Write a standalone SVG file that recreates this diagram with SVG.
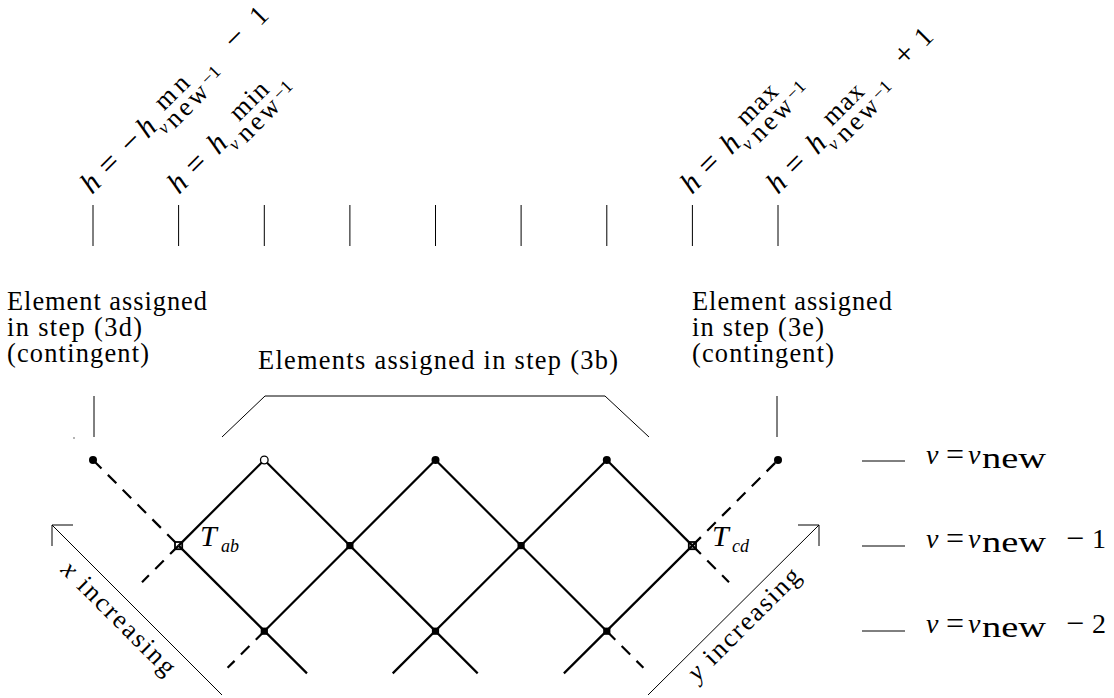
<svg xmlns="http://www.w3.org/2000/svg" width="1114" height="698" viewBox="0 0 1114 698">
  <style>
    .t { font-family: "Liberation Serif", "Times New Roman", serif; fill: #000; }
    .i { font-style: italic; }
    .s18 { font-size: 18px; }
    .s26 { font-size: 26.4px; }
    .s28 { font-size: 28px; }
    .s30 { font-size: 30px; }
    .s32 { font-size: 32px; }
    .thin { stroke: #000; stroke-width: 1; fill: none; }
    .lat { stroke: #000; stroke-width: 2.2; fill: none; }
    .dash { stroke-dasharray: 12 9; }
    .dot { fill: #000; }
    .sq { fill: #000; }
    .ring { fill: none; stroke: #000; stroke-width: 1.8; }
  </style>

  <!-- height labels above the tick marks -->
  <g id="label-hmin-minus1" transform="translate(92,195) rotate(-45)">
    <text class="t i s30" x="0" y="0">h</text>
    <text class="t s32" x="25" y="0">=</text>
    <text class="t s32" x="56" y="0">−</text>
    <text class="t i s30" x="79" y="0">h</text>
    <text class="t i s18" x="94" y="9">v</text>
    <text class="t s26" x="105" y="12" textLength="50">new</text>
    <text class="t s26" x="110" y="-8" textLength="38">mn</text>
    <text class="t s18" x="159" y="5">−1</text>
    <text class="t s32" x="203" y="0">−</text>
    <text class="t s28" x="238" y="0">1</text>
  </g>
  <g id="label-hmin" transform="translate(179,195) rotate(-45)">
    <text class="t i s30" x="0" y="0">h</text>
    <text class="t s32" x="25" y="0">=</text>
    <text class="t i s30" x="56" y="0">h</text>
    <text class="t i s18" x="71" y="9">v</text>
    <text class="t s26" x="84" y="11" textLength="50">new</text>
    <text class="t s26" x="94" y="-9" textLength="44">min</text>
    <text class="t s18" x="138" y="5">−1</text>
  </g>
  <g id="label-hmax" transform="translate(692,195) rotate(-45)">
    <text class="t i s30" x="0" y="0">h</text>
    <text class="t s32" x="25" y="0">=</text>
    <text class="t i s30" x="56" y="0">h</text>
    <text class="t i s18" x="71" y="9">v</text>
    <text class="t s26" x="84" y="11" textLength="50">new</text>
    <text class="t s26" x="86" y="-10" textLength="48">max</text>
    <text class="t s18" x="138" y="5">−1</text>
  </g>
  <g id="label-hmax-plus1" transform="translate(778,195) rotate(-45)">
    <text class="t i s30" x="0" y="0">h</text>
    <text class="t s32" x="25" y="0">=</text>
    <text class="t i s30" x="56" y="0">h</text>
    <text class="t i s18" x="71" y="9">v</text>
    <text class="t s26" x="84" y="11" textLength="50">new</text>
    <text class="t s26" x="86" y="-10" textLength="48">max</text>
    <text class="t s18" x="138" y="5">−1</text>
    <text class="t s32" x="180" y="0">+</text>
    <text class="t s28" x="208" y="0">1</text>
  </g>

  <!-- tick marks for each height column -->
  <g id="ticks" class="thin">
    <line x1="93" y1="205" x2="93" y2="246"/>
    <line x1="178.6" y1="205" x2="178.6" y2="246"/>
    <line x1="264.3" y1="205" x2="264.3" y2="246"/>
    <line x1="349.9" y1="205" x2="349.9" y2="246"/>
    <line x1="435.5" y1="205" x2="435.5" y2="246"/>
    <line x1="521.1" y1="205" x2="521.1" y2="246"/>
    <line x1="606.8" y1="205" x2="606.8" y2="246"/>
    <line x1="692.4" y1="205" x2="692.4" y2="246"/>
    <line x1="778" y1="205" x2="778" y2="246"/>
  </g>

  <!-- annotations -->
  <g id="note-3d">
    <text class="t s26" x="7" y="310" textLength="200">Element assigned</text>
    <text class="t s26" x="7" y="336" textLength="135">in step (3d)</text>
    <text class="t s26" x="7" y="362" textLength="142">(contingent)</text>
  </g>
  <g id="note-3e">
    <text class="t s26" x="692" y="310" textLength="200">Element assigned</text>
    <text class="t s26" x="692" y="336" textLength="132">in step (3e)</text>
    <text class="t s26" x="692" y="362" textLength="142">(contingent)</text>
  </g>
  <g id="note-3b">
    <text class="t s26" x="258" y="369" textLength="360">Elements assigned in step (3b)</text>
  </g>

  <!-- connectors: pointers, bracket, lattice edges, direction arrows -->
  <g id="connectors">
    <line class="thin" x1="94" y1="396" x2="94" y2="437"/>
    <line class="thin" x1="777" y1="396" x2="777" y2="437"/>
    <polyline class="thin" points="222,437 265,396 605,396 649,437"/>
    <circle cx="74" cy="438" r="0.8" fill="#555"/>

    <!-- solid lattice edges -->
    <line class="lat" x1="178.6" y1="545.6" x2="264.3" y2="460"/>
    <line class="lat" x1="264.3" y1="631.2" x2="435.5" y2="460"/>
    <line class="lat" x1="392.7" y1="673.4" x2="606.8" y2="460"/>
    <line class="lat" x1="563.9" y1="673.4" x2="692.4" y2="545.6"/>
    <line class="lat" x1="178.6" y1="545.6" x2="307" y2="673.4"/>
    <line class="lat" x1="264.3" y1="460" x2="477.7" y2="673.4"/>
    <line class="lat" x1="435.5" y1="460" x2="606.8" y2="631.2"/>
    <line class="lat" x1="606.8" y1="460" x2="692.4" y2="545.6"/>

    <!-- dashed continuations -->
    <line class="lat dash" x1="93" y1="460" x2="178.6" y2="545.6"/>
    <line class="lat dash" x1="178.6" y1="545.6" x2="142" y2="582.2"/>
    <line class="lat dash" x1="264.3" y1="631.2" x2="227.6" y2="667.8"/>
    <line class="lat dash" x1="692.4" y1="545.6" x2="778" y2="460"/>
    <line class="lat dash" x1="692.4" y1="545.6" x2="729" y2="582.2"/>
    <line class="lat dash" x1="606.8" y1="631.2" x2="643.4" y2="667.8"/>

    <!-- x increasing -->
    <line class="thin" x1="52" y1="525" x2="222" y2="695"/>
    <polyline class="thin" points="73,525 52,525 52,546"/>
    <!-- y increasing -->
    <line class="thin" x1="648" y1="695" x2="819" y2="525"/>
    <polyline class="thin" points="798,525 819,525 819,546"/>
  </g>

  <!-- lattice nodes -->
  <g id="node-top-0"><circle class="dot" cx="93" cy="460" r="4"/></g>
  <g id="node-top-1"><circle cx="264.3" cy="460" r="3.8" fill="#fff" stroke="#000" stroke-width="1.3"/></g>
  <g id="node-top-2"><circle class="dot" cx="435.5" cy="460" r="4"/></g>
  <g id="node-top-3"><circle class="dot" cx="606.8" cy="460" r="4"/></g>
  <g id="node-top-4"><circle class="dot" cx="778" cy="460" r="4"/></g>

  <g id="node-Tab">
    <rect class="ring" x="175" y="542" width="7.2" height="7.2"/>
    <text class="t i s30" x="200" y="546">T</text>
    <text class="t i s18" x="221" y="552">ab</text>
  </g>
  <g id="node-mid-1"><rect class="sq" x="346.3" y="542" width="7.2" height="7.2"/></g>
  <g id="node-mid-2"><rect class="sq" x="517.5" y="542" width="7.2" height="7.2"/></g>
  <g id="node-Tcd">
    <rect class="ring" x="688.8" y="542" width="7.2" height="7.2"/>
    <text class="t i s30" x="712" y="546">T</text>
    <text class="t i s18" x="732" y="552">cd</text>
  </g>
  <g id="node-bot-1"><rect class="sq" x="260.7" y="627.6" width="7.2" height="7.2"/></g>
  <g id="node-bot-2"><rect class="sq" x="431.9" y="627.6" width="7.2" height="7.2"/></g>
  <g id="node-bot-3"><rect class="sq" x="603.2" y="627.6" width="7.2" height="7.2"/></g>

  <!-- direction captions -->
  <g id="caption-x" transform="translate(52,525) rotate(45)">
    <text class="t s26" x="38" y="27" textLength="150"><tspan class="i">x</tspan> increasing</text>
  </g>
  <g id="caption-y" transform="translate(648,695) rotate(-45)">
    <text class="t s26" x="44" y="26" textLength="148"><tspan class="i">y</tspan> increasing</text>
  </g>

  <!-- level legend -->
  <g id="level-0">
    <line class="thin" x1="862" y1="461" x2="905" y2="461"/>
    <text class="t i s28" x="926" y="464">v</text>
    <text class="t s32" x="946" y="465">=</text>
    <text class="t i s28" x="968" y="464">v</text>
    <text class="t s30" x="982" y="468" textLength="64" lengthAdjust="spacingAndGlyphs">new</text>
  </g>
  <g id="level-1">
    <line class="thin" x1="862" y1="546" x2="905" y2="546"/>
    <text class="t i s28" x="926" y="548">v</text>
    <text class="t s32" x="946" y="549">=</text>
    <text class="t i s28" x="968" y="548">v</text>
    <text class="t s30" x="982" y="552" textLength="64" lengthAdjust="spacingAndGlyphs">new</text>
    <text class="t s32" x="1066" y="549">−</text>
    <text class="t s28" x="1092" y="548">1</text>
  </g>
  <g id="level-2">
    <line class="thin" x1="862" y1="631" x2="905" y2="631"/>
    <text class="t i s28" x="926" y="633">v</text>
    <text class="t s32" x="946" y="634">=</text>
    <text class="t i s28" x="968" y="633">v</text>
    <text class="t s30" x="982" y="637" textLength="64" lengthAdjust="spacingAndGlyphs">new</text>
    <text class="t s32" x="1066" y="634">−</text>
    <text class="t s28" x="1092" y="633">2</text>
  </g>
</svg>
